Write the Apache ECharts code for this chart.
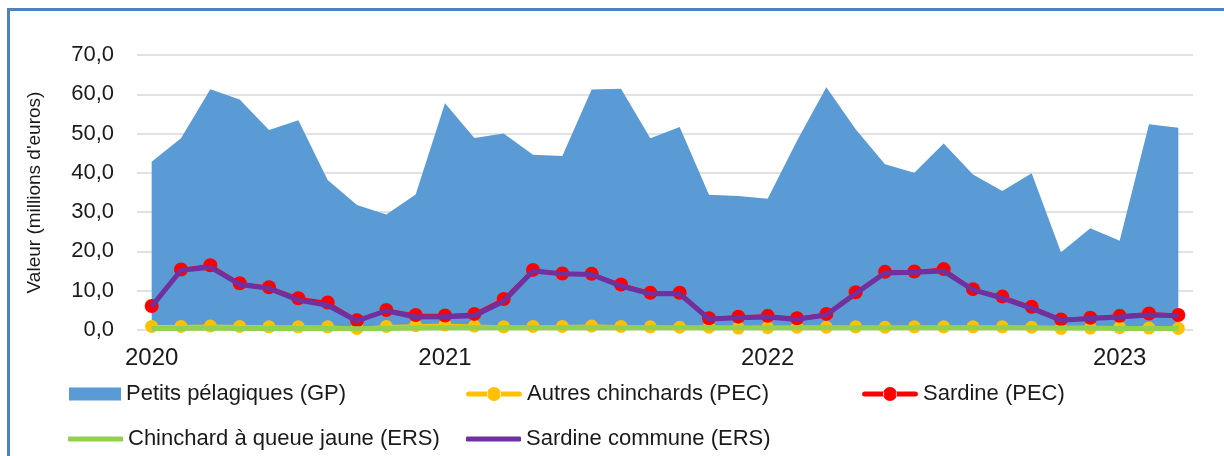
<!DOCTYPE html>
<html>
<head>
<meta charset="utf-8">
<script src="https://cdn.jsdelivr.net/npm/echarts@6/dist/echarts.min.js"></script>
<style>
html,body{margin:0;padding:0;background:#fff;}
#chart{width:1224px;height:456px;}
</style>
</head>
<body>
<div id="chart"></div>
<script>
// Periods (year-month), year label shown at the first period of each year
const categories = [
  '2020-01','2020-02','2020-03','2020-04','2020-05','2020-06','2020-07','2020-08','2020-09','2020-10',
  '2021-01','2021-02','2021-03','2021-04','2021-05','2021-06','2021-07','2021-08','2021-09','2021-10','2021-11',
  '2022-01','2022-02','2022-03','2022-04','2022-05','2022-06','2022-07','2022-08','2022-09','2022-10','2022-11','2022-12',
  '2023-01','2023-02','2023-03'
];
const petitsPelagiquesGP = [42.8,48.8,61.3,58.7,50.9,53.4,38.2,31.8,29.4,34.5,
  57.7,48.9,50.0,44.6,44.3,61.2,61.4,48.8,51.7,34.4,34.1,
  33.4,48.2,61.8,51.1,42.2,40.0,47.5,39.6,35.4,39.9,19.8,25.9,
  22.7,52.4,51.5];
const autresChinchardsPEC = [0.9,0.9,1.0,0.9,0.8,0.8,0.8,0.4,0.9,1.1,
  1.3,1.0,0.8,0.9,0.9,1.0,0.9,0.8,0.7,0.7,0.5,
  0.6,0.7,0.7,0.8,0.7,0.8,0.8,0.8,0.8,0.7,0.4,0.5,
  0.6,0.5,0.4];
const sardinePEC = [6.1,15.4,16.5,11.9,10.9,8.1,7.0,2.5,5.1,3.8,
  3.7,4.1,7.9,15.3,14.4,14.3,11.6,9.5,9.5,3.0,3.4,
  3.6,3.0,4.1,9.6,14.8,14.9,15.5,10.4,8.5,5.9,2.7,3.1,
  3.6,4.2,3.8];
const chinchardQueueJauneERS = [0.4,0.4,0.5,0.4,0.4,0.4,0.4,0.3,0.4,0.5,
  0.6,0.6,0.6,0.6,0.6,0.6,0.6,0.6,0.6,0.6,0.6,
  0.6,0.6,0.6,0.6,0.6,0.6,0.6,0.6,0.6,0.6,0.5,0.5,
  0.4,0.4,0.4];
const sardineCommuneERS = [6.0,15.2,16.0,11.6,10.6,7.6,6.3,2.3,4.9,3.3,
  3.4,3.6,7.3,15.0,14.3,14.1,11.2,9.2,9.2,2.8,3.1,
  3.3,2.7,3.8,9.3,14.5,14.7,15.0,10.2,8.1,5.5,2.5,2.9,
  3.3,3.8,3.6];
const yTicks = {min: 0, max: 70, interval: 10};
const seriesNames = ['Petits pélagiques (GP)','Autres chinchards (PEC)','Sardine (PEC)','Chinchard à queue jaune (ERS)','Sardine commune (ERS)'];

const FONT = 'Liberation Sans';
const TXT = '#1a1a1a';

// legend icon shapes (line with marker / plain thick line)
const ICON_LINE_MARKER = 'path://M2,4.5 H22 V9.5 H2 A2.5,2.5 0 0,1 2,4.5 Z M34,4.5 H54 A2.5,2.5 0 0,1 54,9.5 H34 Z M21,7 A7,7 0 1,0 35,7 A7,7 0 1,0 21,7 Z';
const ICON_LINE = 'path://M0,0 H56 V14 H0 Z';

const chart = echarts.init(document.getElementById('chart'), null, {renderer: 'canvas'});

function legendAt(name, left, top, icon, w, h) {
  return {
    data: [{name: name, icon: icon}], left: left, top: top, padding: 0,
    itemWidth: w, itemHeight: h, symbolKeepAspect: false,
    textStyle: {fontFamily: FONT, fontSize: 22, color: TXT},
    selectedMode: false
  };
}

const option = {
  animation: false,
  backgroundColor: '#fff',
  graphic: [{
    type: 'polyline', silent: true,
    shape: {points: [[8.5, 460], [8.5, 9.5], [1230, 9.5]]},
    style: {stroke: '#4F81BD', lineWidth: 3, fill: null}
  }],
  grid: {left: 137, right: 31, top: 55, bottom: 126},
  legend: [
    legendAt(seriesNames[0], 69, 383, 'rect', 52, 13),
    legendAt(seriesNames[1], 466, 383, ICON_LINE_MARKER, 56, 14),
    legendAt(seriesNames[2], 862, 383, ICON_LINE_MARKER, 56, 14),
    legendAt(seriesNames[3], 68, 428, 'roundRect', 55, 5),
    legendAt(seriesNames[4], 466, 428, 'roundRect', 55, 5)
  ],
  xAxis: {
    type: 'category', data: categories, boundaryGap: true,
    axisLine: {show: false}, axisTick: {show: false},
    axisLabel: {
      fontFamily: FONT, fontSize: 24, color: TXT, margin: 16,
      interval: function (i, v) { return v.slice(5) === '01'; },
      formatter: function (v) { return v.slice(0, 4); }
    },
    splitLine: {show: false}
  },
  yAxis: {
    type: 'value', min: yTicks.min, max: yTicks.max, interval: yTicks.interval,
    name: 'Valeur (millions d\'euros)', nameLocation: 'middle', nameGap: 93,
    nameTextStyle: {fontFamily: FONT, fontSize: 19, color: TXT},
    axisLine: {show: false}, axisTick: {show: false},
    axisLabel: {
      fontFamily: FONT, fontSize: 22, color: TXT, margin: 23,
      formatter: function (v) { return v.toFixed(1).replace('.', ','); }
    },
    splitLine: {show: true, lineStyle: {color: '#D9D9D9', width: 1.7}}
  },
  series: [
    {
      name: seriesNames[0], type: 'line', data: petitsPelagiquesGP,
      symbol: 'none', lineStyle: {width: 0, color: '#5B9BD5'},
      itemStyle: {color: '#5B9BD5'},
      areaStyle: {color: '#5B9BD5', opacity: 1}, z: 1
    },
    {
      name: seriesNames[1], type: 'line', data: autresChinchardsPEC,
      symbol: 'circle', symbolSize: 13, showAllSymbol: true,
      lineStyle: {width: 3, color: '#FFC000'}, itemStyle: {color: '#FFC000'}, z: 2
    },
    {
      name: seriesNames[2], type: 'line', data: sardinePEC,
      symbol: 'circle', symbolSize: 14, showAllSymbol: true,
      lineStyle: {width: 3, color: '#FF0000'}, itemStyle: {color: '#FF0000'}, z: 3
    },
    {
      name: seriesNames[3], type: 'line', data: chinchardQueueJauneERS,
      symbol: 'none', lineStyle: {width: 5, color: '#92D050'}, itemStyle: {color: '#92D050'}, z: 4
    },
    {
      name: seriesNames[4], type: 'line', data: sardineCommuneERS,
      symbol: 'none', lineStyle: {width: 5, color: '#7030A0'}, itemStyle: {color: '#7030A0'}, z: 5
    }
  ]
};
chart.setOption(option);
</script>
</body>
</html>
